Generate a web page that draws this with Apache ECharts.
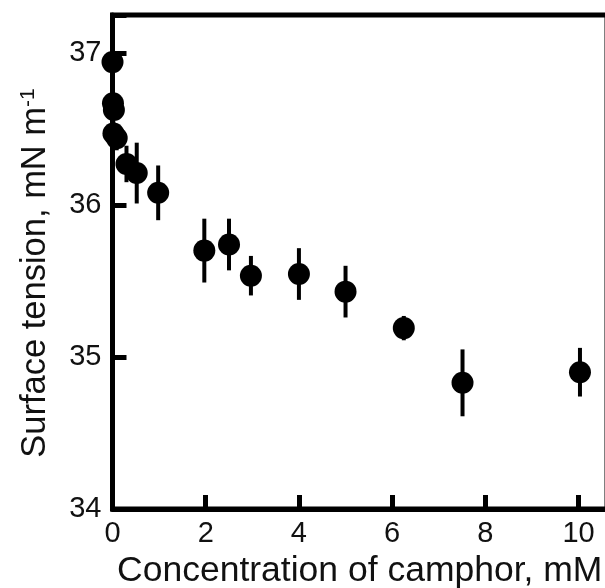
<!DOCTYPE html>
<html>
<head>
<meta charset="utf-8">
<script src="https://cdn.jsdelivr.net/npm/echarts@6/dist/echarts.min.js"></script>
<style>
html,body{margin:0;padding:0;background:#fff;}
#chart{width:605px;height:588px;}
</style>
</head>
<body>
<div id="chart"></div>
<script>
var concentration = [0, 0.01, 0.03, 0.02, 0.09, 0.3, 0.52, 0.98, 1.97, 2.5, 2.97, 4.0, 5.0, 6.25, 7.51, 10.03];
var tension = [36.94, 36.67, 36.625, 36.47, 36.44, 36.27, 36.21, 36.08, 35.70, 35.74, 35.535, 35.546, 35.43, 35.19, 34.83, 34.90];
var tensionErr = [0.06, 0.06, 0.06, 0.08, 0.08, 0.12, 0.2, 0.18, 0.21, 0.17, 0.13, 0.17, 0.17, 0.08, 0.22, 0.16];
var xTicks = [0, 2, 4, 6, 8, 10];
var yTicks = [34, 35, 36, 37];

var pts = concentration.map(function (c, i) { return [c, tension[i]]; });
var errs = concentration.map(function (c, i) { return [c, tension[i], tensionErr[i]]; });

var FONT = "'Liberation Sans', Arial, sans-serif";
var TXT = '#111';
var chart = echarts.init(document.getElementById('chart'), null, {renderer: 'canvas'});
chart.setOption({
  animation: false,
  backgroundColor: '#fff',
  grid: {left: 112.5, top: 15, width: 494.5, height: 494, containLabel: false, outerBoundsMode: 'none',
         show: true, borderColor: '#000', borderWidth: 5, backgroundColor: 'transparent'},
  xAxis: {
    type: 'value', min: 0, max: 10.61, interval: 2,
    axisLine: {show: true, lineStyle: {color: '#000', width: 5}},
    axisTick: {show: true, inside: true, length: 14, lineStyle: {color: '#000', width: 5}},
    axisLabel: {fontSize: 29, color: TXT, fontFamily: FONT, margin: 10,
      formatter: function (v) { return xTicks.indexOf(v) >= 0 ? String(v) : ''; }},
    splitLine: {show: false},
    name: 'Concentration of camphor, mM', nameLocation: 'middle', nameGap: 38,
    nameTextStyle: {fontSize: 35.5, color: TXT, fontFamily: FONT}
  },
  yAxis: {
    type: 'value', min: 34, max: 37.25, interval: 1,
    axisLine: {show: true, lineStyle: {color: '#000', width: 5}},
    axisTick: {show: true, inside: true, length: 14, lineStyle: {color: '#000', width: 5}},
    axisLabel: {fontSize: 29, color: TXT, fontFamily: FONT, margin: 11,
      formatter: function (v) { return yTicks.indexOf(v) >= 0 ? String(v) : ''; }},
    splitLine: {show: false},
    name: '{a|Surface tension, mN m}{s|-1}', nameLocation: 'middle', nameGap: 60,
    nameTextStyle: {fontSize: 34.5, color: TXT, fontFamily: FONT, padding: [0, 22, 0, 0],
      rich: {a: {fontSize: 34.5, color: TXT, fontFamily: FONT},
             s: {fontSize: 21, color: TXT, fontFamily: FONT, verticalAlign: 'top', padding: [0, 0, 14, 0]}}}
  },
  series: [
    {
      type: 'custom',
      clip: false,
      data: errs,
      renderItem: function (params, api) {
        var x = api.value(0), y = api.value(1), e = api.value(2);
        var p1 = api.coord([x, y - e]);
        var p2 = api.coord([x, y + e]);
        return {type: 'line', shape: {x1: p1[0], y1: p1[1], x2: p2[0], y2: p2[1]},
                style: {stroke: '#000', lineWidth: 4}};
      },
      z: 3
    },
    {
      type: 'scatter', data: pts, symbol: 'circle', symbolSize: 22, clip: false,
      itemStyle: {color: '#000', opacity: 1}, z: 4
    }
  ]
});
</script>
</body>
</html>
